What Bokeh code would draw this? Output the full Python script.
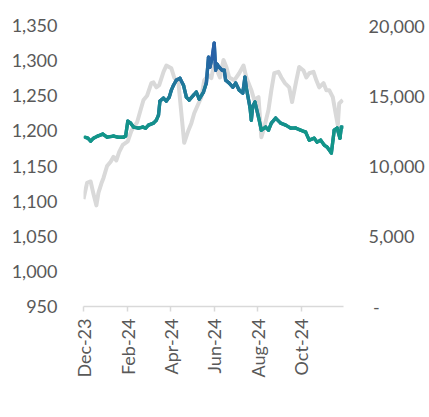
import pandas as pd
from datetime import datetime
from bokeh.plotting import figure
from bokeh.models import (Range1d, LinearAxis, FixedTicker, NumeralTickFormatter,
                          DatetimeTickFormatter, Legend, LegendItem)
from bokeh.embed import file_html
from bokeh.resources import INLINE

# ---------------- data ----------------
tick_dates = ["2023-12-01", "2024-02-01", "2024-04-01", "2024-06-01", "2024-08-01", "2024-10-01"]
tick_labels = ["Dec-23", "Feb-24", "Apr-24", "Jun-24", "Aug-24", "Oct-24"]

vn_dates = ["2023-12-01", "2023-12-06", "2023-12-11", "2023-12-15", "2023-12-19", "2023-12-22",
            "2023-12-26", "2023-12-29", "2024-01-03", "2024-01-08", "2024-01-12", "2024-01-16",
            "2024-01-20", "2024-01-25", "2024-02-01", "2024-02-06", "2024-02-14", "2024-02-19",
            "2024-02-23", "2024-02-28", "2024-03-05", "2024-03-08", "2024-03-12", "2024-03-16",
            "2024-03-22", "2024-03-26", "2024-04-02", "2024-04-06", "2024-04-12", "2024-04-16",
            "2024-04-20", "2024-04-26", "2024-04-30", "2024-05-04", "2024-05-10", "2024-05-14",
            "2024-05-18", "2024-05-24", "2024-05-28", "2024-06-01", "2024-06-09", "2024-06-14",
            "2024-06-18", "2024-06-22", "2024-06-29", "2024-07-06", "2024-07-12", "2024-07-16",
            "2024-07-23", "2024-07-27", "2024-08-02", "2024-08-06", "2024-08-10", "2024-08-16",
            "2024-08-20", "2024-08-24", "2024-08-30", "2024-09-03", "2024-09-08", "2024-09-14",
            "2024-09-18", "2024-09-24", "2024-09-28", "2024-10-04", "2024-10-08", "2024-10-12",
            "2024-10-18", "2024-10-22", "2024-10-26", "2024-11-01", "2024-11-05", "2024-11-09",
            "2024-11-14", "2024-11-18", "2024-11-21", "2024-11-23", "2024-11-28"]
vn_values = [1103, 1126, 1128, 1110, 1094, 1112,
             1125, 1133, 1150, 1156, 1163, 1158,
             1170, 1180, 1185, 1200, 1212, 1230,
             1244, 1250, 1268, 1269, 1262, 1265,
             1284, 1293, 1289, 1276, 1268, 1225,
             1183, 1201, 1211, 1225, 1239, 1248,
             1272, 1279, 1275, 1296, 1276, 1301,
             1291, 1276, 1272, 1282, 1293, 1276,
             1258, 1244, 1248, 1191, 1205, 1230,
             1258, 1282, 1284, 1276, 1268, 1262,
             1241, 1272, 1291, 1286, 1276, 1282,
             1284, 1272, 1262, 1268, 1258, 1258,
             1248, 1225, 1208, 1239, 1244]

csm_dates = ["2023-12-03", "2023-12-07", "2023-12-11", "2023-12-15", "2023-12-21", "2023-12-28",
             "2024-01-03", "2024-01-12", "2024-01-18", "2024-01-26", "2024-01-29", "2024-02-01",
             "2024-02-05", "2024-02-09", "2024-02-16", "2024-02-22", "2024-02-26", "2024-03-01",
             "2024-03-08", "2024-03-12", "2024-03-15", "2024-03-17", "2024-03-22", "2024-03-26",
             "2024-03-30", "2024-04-02", "2024-04-05", "2024-04-09", "2024-04-14", "2024-04-19",
             "2024-04-23", "2024-04-27", "2024-05-03", "2024-05-07", "2024-05-11", "2024-05-17",
             "2024-05-21", "2024-05-24", "2024-05-26", "2024-05-29", "2024-06-01", "2024-06-03",
             "2024-06-05", "2024-06-08", "2024-06-12", "2024-06-15", "2024-06-17", "2024-06-22",
             "2024-06-27", "2024-07-01", "2024-07-06", "2024-07-11", "2024-07-14", "2024-07-16",
             "2024-07-21", "2024-07-23", "2024-07-25", "2024-07-28", "2024-08-02", "2024-08-06",
             "2024-08-12", "2024-08-16", "2024-08-20", "2024-08-26", "2024-09-02", "2024-09-09",
             "2024-09-16", "2024-09-23", "2024-09-30", "2024-10-07", "2024-10-12", "2024-10-19",
             "2024-10-23", "2024-10-28", "2024-11-02", "2024-11-06", "2024-11-12", "2024-11-16",
             "2024-11-20", "2024-11-24", "2024-11-26", "2024-11-28"]
csm_values = [12050, 11980, 11770, 11980, 12130, 12270,
              12050, 12130, 12050, 12050, 12130, 13190,
              13050, 12770, 12700, 12770, 12700, 12910,
              13050, 13260, 13620, 14620, 14830, 14620,
              14900, 15400, 15750, 16110, 16250, 15750,
              14900, 14690, 15040, 15260, 14760, 15260,
              15900, 17750, 17030, 17670, 18740, 16820,
              17250, 17030, 16820, 16820, 16110, 15900,
              15610, 15900, 15400, 15190, 16320, 15540,
              14190, 13260, 14260, 14550, 13480, 12550,
              12770, 12550, 13050, 13410, 13050, 12910,
              12700, 12700, 12550, 12410, 11840, 11980,
              11700, 11840, 11490, 11350, 10920, 12550,
              12700, 11980, 12770, 12770]

# ---------------- styles ----------------
FONT = "Lato"
TXT = "#595959"
GRAY = "#D9D9D9"
TEAL = (18, 150, 136)
BLUE = (43, 92, 170)


def grad(v):
    t = min(max((v - 12500) / 6000.0, 0.0), 1.0)
    c = [round(a + (b - a) * t) for a, b in zip(TEAL, BLUE)]
    return "#%02x%02x%02x" % tuple(c)


vn_x = pd.to_datetime(vn_dates)
csm_x = pd.to_datetime(csm_dates)
ticks_ms = [int(pd.Timestamp(d).value // 10**6) for d in tick_dates]

p = figure(frame_width=260, frame_height=281, x_axis_type="datetime",
           x_range=Range1d(datetime(2023, 12, 1), datetime(2024, 11, 29)),
           y_range=Range1d(950, 1350),
           output_backend="svg", toolbar_location=None,
           min_border_left=83, min_border_right=86, min_border_top=25, min_border_bottom=111)
p.extra_y_ranges = {"rhs": Range1d(0, 20000)}
p.xgrid.visible = False
p.ygrid.visible = False
p.outline_line_color = None
p.background_fill_color = "white"
p.border_fill_color = "white"

# x axis
xa = p.xaxis[0]
xa.ticker = FixedTicker(ticks=ticks_ms)
xa.formatter = DatetimeTickFormatter(days="%b-%y", months="%b-%y", years="%b-%y")
xa.major_label_overrides = {t: lab for t, lab in zip(ticks_ms, tick_labels)}
xa.major_label_orientation = 3.14159265 / 2
xa.axis_line_color = GRAY
xa.axis_line_width = 1.5
xa.major_tick_line_color = GRAY
xa.major_tick_line_width = 1.5
xa.major_tick_out = 5
xa.major_tick_in = 0
xa.minor_tick_line_color = None
xa.major_label_standoff = 7
xa.major_label_text_font = FONT
xa.major_label_text_font_size = "18px"
xa.major_label_text_color = TXT

# left axis
ya = p.yaxis[0]
ya.ticker = FixedTicker(ticks=list(range(950, 1351, 50)))
ya.formatter = NumeralTickFormatter(format="0,0")
ya.axis_line_color = None
ya.major_tick_line_color = None
ya.minor_tick_line_color = None
ya.major_tick_out = 0
ya.major_tick_in = 0
ya.major_label_standoff = 26
ya.major_label_text_font = FONT
ya.major_label_text_font_size = "18px"
ya.major_label_text_color = TXT

# right axis
ra = LinearAxis(y_range_name="rhs")
ra.ticker = FixedTicker(ticks=list(range(0, 20001, 5000)))
ra.formatter = NumeralTickFormatter(format="0,0")
ra.major_label_overrides = {0: "\u00a0-"}
ra.axis_line_color = None
ra.major_tick_line_color = None
ra.minor_tick_line_color = None
ra.major_tick_out = 0
ra.major_tick_in = 0
ra.major_label_standoff = 25
ra.major_label_text_font = FONT
ra.major_label_text_font_size = "18px"
ra.major_label_text_color = TXT
p.add_layout(ra, "right")

# series
r_vn = p.line(vn_x, vn_values, color=GRAY, line_width=4, line_join="round")

# CSM: base line (also the legend glyph) covered by gradient-coloured segments
r_csm = p.line(csm_x, csm_values, color="#1F6CA3", line_width=3.3, line_join="round",
               y_range_name="rhs")
seg_colors = [grad((a + b) / 2) for a, b in zip(csm_values[:-1], csm_values[1:])]
p.segment(x0=csm_x[:-1], y0=csm_values[:-1], x1=csm_x[1:], y1=csm_values[1:],
          color=seg_colors, line_width=3.4, line_cap="round", y_range_name="rhs")

legend = Legend(items=[LegendItem(label="VNIndex", renderers=[r_vn]),
                       LegendItem(label="CSM (RHS)", renderers=[r_csm])],
                location="bottom_left", orientation="horizontal",
                border_line_color=None, background_fill_alpha=0,
                padding=0, margin=0, spacing=0, glyph_width=53, glyph_height=20,
                label_height=20, label_width=92, label_standoff=9, label_text_font=FONT,
                label_text_font_size="18px", label_text_color=TXT)
p.add_layout(legend, "below")

open("out.html", "w").write(file_html(p, INLINE))
